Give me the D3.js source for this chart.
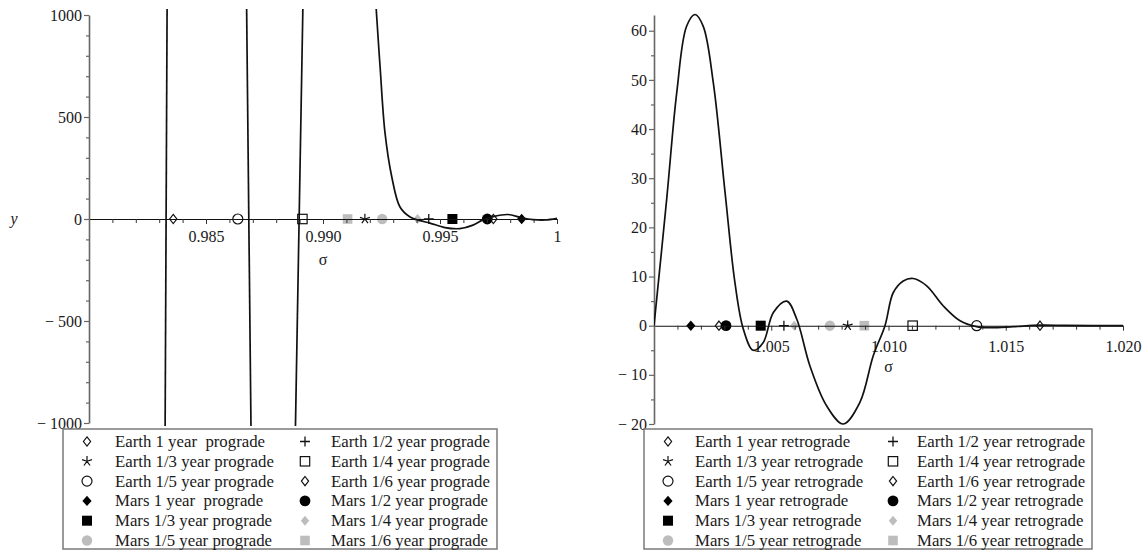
<!DOCTYPE html>
<html><head><meta charset="utf-8">
<script src="https://cdn.jsdelivr.net/npm/d3@7"></script>
<style>
body{margin:0;background:#fff}
svg text{font-family:"Liberation Serif","Times New Roman",serif;fill:#1a1a1a}
</style>
</head><body>
<svg id="c" width="1146" height="551"></svg>
<script>
// ---------- data ----------
const progradeLabels = ["Earth 1 year  prograde","Earth 1/2 year prograde","Earth 1/3 year prograde","Earth 1/4 year prograde","Earth 1/5 year prograde","Earth 1/6 year prograde","Mars 1 year  prograde","Mars 1/2 year prograde","Mars 1/3 year prograde","Mars 1/4 year prograde","Mars 1/5 year prograde","Mars 1/6 year prograde"];
const retrogradeLabels = ["Earth 1 year retrograde","Earth 1/2 year retrograde","Earth 1/3 year retrograde","Earth 1/4 year retrograde","Earth 1/5 year retrograde","Earth 1/6 year retrograde","Mars 1 year retrograde","Mars 1/2 year retrograde","Mars 1/3 year retrograde","Mars 1/4 year retrograde","Mars 1/5 year retrograde","Mars 1/6 year retrograde"];
const markerTypes = ["diamondOpen","plus","star","squareOpen","circleOpen","diamondOpen","diamondFilled","circleFilled","squareFilled","diamondGray","circleGray","squareGray"];
const progradeSigma = [0.9836,0.99452,0.99179,0.98912,0.98636,0.99728,0.99849,0.99702,0.99553,0.99404,0.99253,0.99105];
const retrogradeSigma = [1.00277,1.00554,1.00826,1.01103,1.01376,1.01646,1.00157,1.00307,1.00455,1.00598,1.0075,1.00897];

// prograde curve branches (sigma, y) — steep branches leave the view
const progradeBranch1 = [[0.98325,-1100],[0.98334,1100]];
const progradeBranch2 = [[0.98673,1100],[0.98693,-1100]];
const progradeBranch3 = [[0.98881,-1100],[0.98915,1100]];
const progradeBranch4 = [[0.99224,1100],[0.99229,1000],[0.99244,745],[0.99265,422],[0.99294,206],[0.99329,59],[0.99372,10],[0.99415,-8],[0.99457,-20],[0.99521,-42],[0.99585,-47],[0.99641,-30],[0.99685,-3],[0.99728,12],[0.99790,22],[0.99849,6],[0.99897,-3],[0.99949,-5],[1.0,3]];

// retrograde curve (sigma, y)
const retrogradeCurve = [[1.0,0],[1.00054,25.7],[1.00097,47.4],[1.00139,60.9],[1.00175,63.3],[1.00210,60.9],[1.00253,49.4],[1.00303,27.1],[1.00345,8.8],[1.00381,-0.7],[1.00423,-5.0],[1.00466,-3.4],[1.00509,2.7],[1.00566,5.0],[1.00609,1.3],[1.00665,-8.2],[1.00736,-16.3],[1.00807,-20.0],[1.00878,-15.6],[1.00935,-6.1],[1.00985,0],[1.01020,6.7],[1.01063,9.1],[1.01106,9.6],[1.01163,8.1],[1.01234,4.0],[1.01305,1.0],[1.01376,-0.2],[1.01433,-0.4],[1.01532,-0.2],[1.01646,0.1],[1.01760,0.05],[1.02,0]];

// ticks
const leftXMajor = [0.985,0.990,0.995,1.0];
const leftYMajor = [1000,500,0,-500,-1000];
const rightXMajor = [1.005,1.010,1.015,1.020];
const rightYMajor = [60,50,40,30,20,10,0,-10,-20];

// ---------- drawing ----------
const svg = d3.select("#c");
const GRAY = "#bdbdbd";

function marker(g, type, cx, cy){
  const s = g.append("g").attr("transform",`translate(${cx},${cy})`);
  const dia = (hx,hy)=>`M0,${-hy}L${hx},0L0,${hy}L${-hx},0Z`;
  switch(type){
    case "diamondOpen": s.append("path").attr("d",dia(3.6,4.6)).attr("fill","none").attr("stroke","#111").attr("stroke-width",1.2); break;
    case "plus": s.append("path").attr("d","M-5,0H5M0,-5V5").attr("stroke","#111").attr("stroke-width",1.3); break;
    case "star": {
      let d=""; for(let k=0;k<5;k++){const a=-Math.PI/2+k*2*Math.PI/5; d+=`M0,0L${(5.2*Math.cos(a)).toFixed(2)},${(5.2*Math.sin(a)).toFixed(2)}`;}
      s.append("path").attr("d",d).attr("stroke","#111").attr("stroke-width",1.2).attr("fill","none"); break; }
    case "squareOpen": s.append("rect").attr("x",-4.7).attr("y",-4.7).attr("width",9.4).attr("height",9.4).attr("fill","none").attr("stroke","#111").attr("stroke-width",1.2); break;
    case "circleOpen": s.append("circle").attr("r",5).attr("fill","none").attr("stroke","#111").attr("stroke-width",1.2); break;
    case "diamondFilled": s.append("path").attr("d",dia(4.6,5.2)).attr("fill","#000"); break;
    case "circleFilled": s.append("circle").attr("r",5.4).attr("fill","#000"); break;
    case "squareFilled": s.append("rect").attr("x",-5).attr("y",-5).attr("width",10).attr("height",10).attr("fill","#000"); break;
    case "diamondGray": s.append("path").attr("d",dia(4.2,5)).attr("fill",GRAY); break;
    case "circleGray": s.append("circle").attr("r",5.2).attr("fill",GRAY); break;
    case "squareGray": s.append("rect").attr("x",-4.8).attr("y",-4.8).attr("width",9.6).attr("height",9.6).attr("fill",GRAY); break;
  }
}

function fmtMinus(d){ return d<0 ? "\u2212 " + Math.abs(d) : String(d); }

function panel(opts){
  const {x, y, id, branches, sigma, labels, xMajor, xMinor, yMajor, yMinor, xFmt, yFmt, labelPad, sigmaY, legend} = opts;
  const g = svg.append("g");
  const x0 = x.range()[0], x1 = x.range()[1];
  const yTop = y.range()[1], yBot = y.range()[0];
  const y0 = y(0);

  svg.append("clipPath").attr("id",id).append("rect")
    .attr("x",x0).attr("y",yTop-6).attr("width",x1-x0+1).attr("height",yBot-yTop+9);

  // markers
  const mg = g.append("g");
  sigma.forEach((s,i)=>marker(mg, markerTypes[i], x(s), y0));

  // x axis
  const ax = g.append("g").attr("transform",`translate(0,${y0})`);
  ax.call(d3.axisBottom(x).tickValues(xMinor).tickSize(4).tickFormat("").tickSizeOuter(0));
  ax.select(".domain").attr("stroke","#111").attr("stroke-width",1.1);
  ax.selectAll(".tick line").attr("stroke","#333").attr("stroke-width",1);
  const axM = g.append("g").attr("transform",`translate(0,${y0})`);
  axM.call(d3.axisBottom(x).tickValues(xMajor).tickSize(5).tickPadding(labelPad).tickFormat(xFmt).tickSizeOuter(0));
  axM.select(".domain").remove();
  axM.selectAll(".tick line").attr("stroke","#333");
  axM.selectAll(".tick text").attr("font-size",16).attr("fill","#1a1a1a").attr("font-family","Liberation Serif");

  // y axis
  const ay = g.append("g").attr("transform",`translate(${x0},0)`);
  ay.call(d3.axisLeft(y).tickValues(yMinor).tickSize(3).tickFormat("").tickSizeOuter(0));
  ay.select(".domain").attr("stroke","#666").attr("stroke-width",1.6);
  ay.selectAll(".tick line").attr("stroke","#666").attr("stroke-width",1.2);
  const ayM = g.append("g").attr("transform",`translate(${x0},0)`);
  ayM.call(d3.axisLeft(y).tickValues(yMajor).tickSize(5).tickPadding(2).tickFormat(yFmt).tickSizeOuter(0));
  ayM.select(".domain").remove();
  ayM.selectAll(".tick line").attr("stroke","#666").attr("stroke-width",1.2);
  ayM.selectAll(".tick text").attr("font-size",16).attr("fill","#1a1a1a").attr("font-family","Liberation Serif");

  // curves
  const cg = g.append("g").attr("clip-path",`url(#${id})`);
  branches.forEach(b=>{
    const line = d3.line().x(d=>x(d[0])).y(d=>y(d[1])).curve(b.length>2?d3.curveCatmullRom.alpha(0.5):d3.curveLinear);
    cg.append("path").attr("d",line(b)).attr("fill","none").attr("stroke","#111").attr("stroke-width",1.7);
  });

  // sigma label
  g.append("text").attr("x",(x0+x1)/2).attr("y",sigmaY).attr("text-anchor","middle").attr("font-size",16).text("\u03c3");

  // legend
  const lg = g.append("g");
  lg.append("rect").attr("x",legend.x).attr("y",legend.y).attr("width",legend.w).attr("height",legend.h)
    .attr("fill","#fff").attr("stroke","#7a7a7a").attr("stroke-width",1.5);
  labels.forEach((t,i)=>{
    const col = i%2, row = Math.floor(i/2);
    const cy = legend.y + 12.5 + row*19.8;
    marker(lg, markerTypes[i], legend.mx[col], cy);
    lg.append("text").attr("x",legend.tx[col]).attr("y",cy+5.5).attr("font-size",16.8)
      .style("white-space","pre").text(t);
  });
  return g;
}

// Left: prograde
const xL = d3.scaleLinear().domain([0.98,1.0]).range([89,557]);
const yL = d3.scaleLinear().domain([-1000,1000]).range([423,15]);
const leftMinor = d3.range(1,20).map(k=>0.98+k*0.001).filter(v=>!leftXMajor.some(m=>Math.abs(m-v)<1e-9));
const leftYMinor = d3.range(-10,11).map(k=>k*100).filter(v=>v%500!==0);
panel({x:xL, y:yL, id:"clipL",
  branches:[progradeBranch1,progradeBranch2,progradeBranch3,progradeBranch4],
  sigma:progradeSigma, labels:progradeLabels,
  xMajor:leftXMajor, xMinor:leftMinor, yMajor:leftYMajor, yMinor:leftYMinor,
  xFmt:d=>Math.abs(d-1)<1e-9?"1":d3.format(".3f")(d), yFmt:fmtMinus, labelPad:7, sigmaY:265,
  legend:{x:63,y:429,w:434,h:120,mx:[87,305],tx:[115,331]}});
svg.append("text").attr("x",14).attr("y",224).attr("font-size",16).attr("font-style","italic").attr("text-anchor","middle").text("y");

// Right: retrograde
const xR = d3.scaleLinear().domain([1.0,1.02]).range([654,1123]);
const yR = d3.scaleLinear().domain([-20,63.2]).range([424,15]);
const rightMinor = d3.range(1,20).map(k=>1.0+k*0.001).filter(v=>!rightXMajor.some(m=>Math.abs(m-v)<1e-9));
const rightYMinor = [-15,-5,5,15,25,35,45,55];
panel({x:xR, y:yR, id:"clipR",
  branches:[retrogradeCurve],
  sigma:retrogradeSigma, labels:retrogradeLabels,
  xMajor:rightXMajor, xMinor:rightMinor, yMajor:rightYMajor, yMinor:rightYMinor,
  xFmt:d3.format(".3f"), yFmt:fmtMinus, labelPad:10, sigmaY:372,
  legend:{x:644,y:429,w:448,h:120,mx:[668,893],tx:[695,917]}});
</script>
</body></html>
